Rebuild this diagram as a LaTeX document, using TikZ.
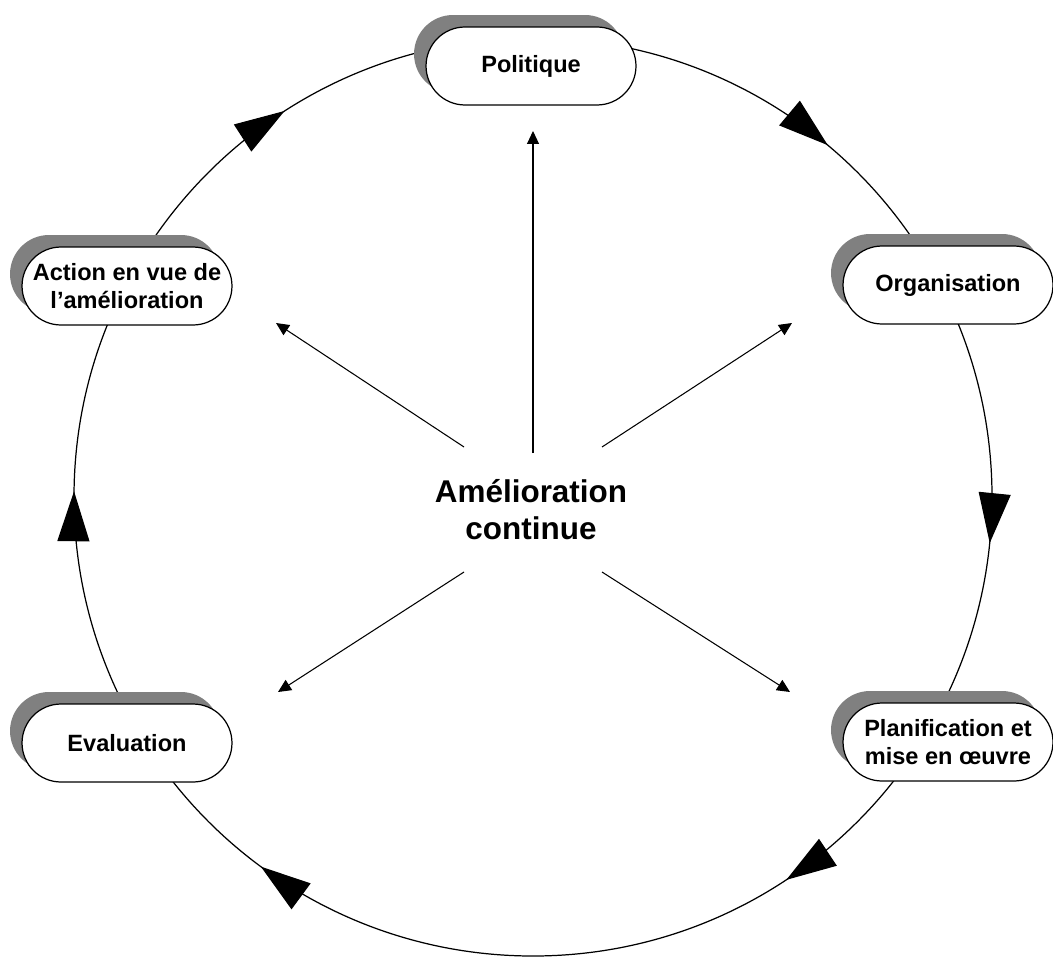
\documentclass[tikz,border=0pt]{standalone}
\usepackage{fontspec}
\setmainfont{Liberation Sans}
\usetikzlibrary{arrows.meta,shapes.misc,shadows,decorations.markings}

\begin{document}
\begin{tikzpicture}[
    x=0.02cm,y=0.02cm,
    stage/.style={draw,rounded rectangle,fill=white,line width=0.7pt,minimum width=4.2cm,minimum height=1.56cm,align=center,inner sep=0pt,font=\fontsize{13.4}{15.5}\selectfont\bfseries,
      drop shadow={shadow xshift=-0.24cm,shadow yshift=0.24cm,fill=black!50,opacity=1}},
    spoke/.style={-{Triangle[length=0.26cm,width=0.24cm]},line width=0.6pt},
    bigtip/.tip={Triangle[length=1cm,width=0.64cm]}
  ]
    \useasboundingbox (0,0) rectangle (1053,958);

    % Cycle - clockwise with large heads
    \coordinate (c) at (533,461);
    \draw[line width=0.7pt,postaction={decorate},decoration={markings,
        mark=at position 0.016 with {\arrow{bigtip}},
        mark=at position 0.157 with {\arrow{bigtip}},
        mark=at position 0.351 with {\arrow{bigtip}},
        mark=at position 0.502 with {\arrow{bigtip}},
        mark=at position 0.659 with {\arrow{bigtip}},
        mark=at position 0.861 with {\arrow{bigtip}}}]
      (c) ++(0:459) arc[start angle=0,end angle=-360,radius=459];

    % Stages on the cycle
    \node[stage] (pol) at (531,892) {Politique};
    \node[stage] (org) at (948,673) {Organisation};
    \node[stage] (plan) at (948,216) {Planification et\\mise en œuvre};
    \node[stage] (eval) at (127,215) {Evaluation};
    \node[stage] (act) at (127,672) {Action en vue de\\l’amélioration};

    % Centre
    \node[align=center,font=\fontsize{17.9}{21}\selectfont\bfseries] (ac) at (531,448) {Amélioration\\continue};

    % Spokes from the centre
    \coordinate (s-pol) at (533,505);  \coordinate (e-pol) at (533,827);
    \coordinate (s-org) at (602,511);  \coordinate (e-org) at (792,635);
    \coordinate (s-plan) at (602,386); \coordinate (e-plan) at (790,266);
    \coordinate (s-eval) at (464,386); \coordinate (e-eval) at (278,266);
    \coordinate (s-act) at (464,511);  \coordinate (e-act) at (276,635);
    \draw[spoke] (s-pol) -- (e-pol);
    \draw[spoke] (s-org) -- (e-org);
    \draw[spoke] (s-plan) -- (e-plan);
    \draw[spoke] (s-eval) -- (e-eval);
    \draw[spoke] (s-act) -- (e-act);
  \end{tikzpicture}
\end{document}
